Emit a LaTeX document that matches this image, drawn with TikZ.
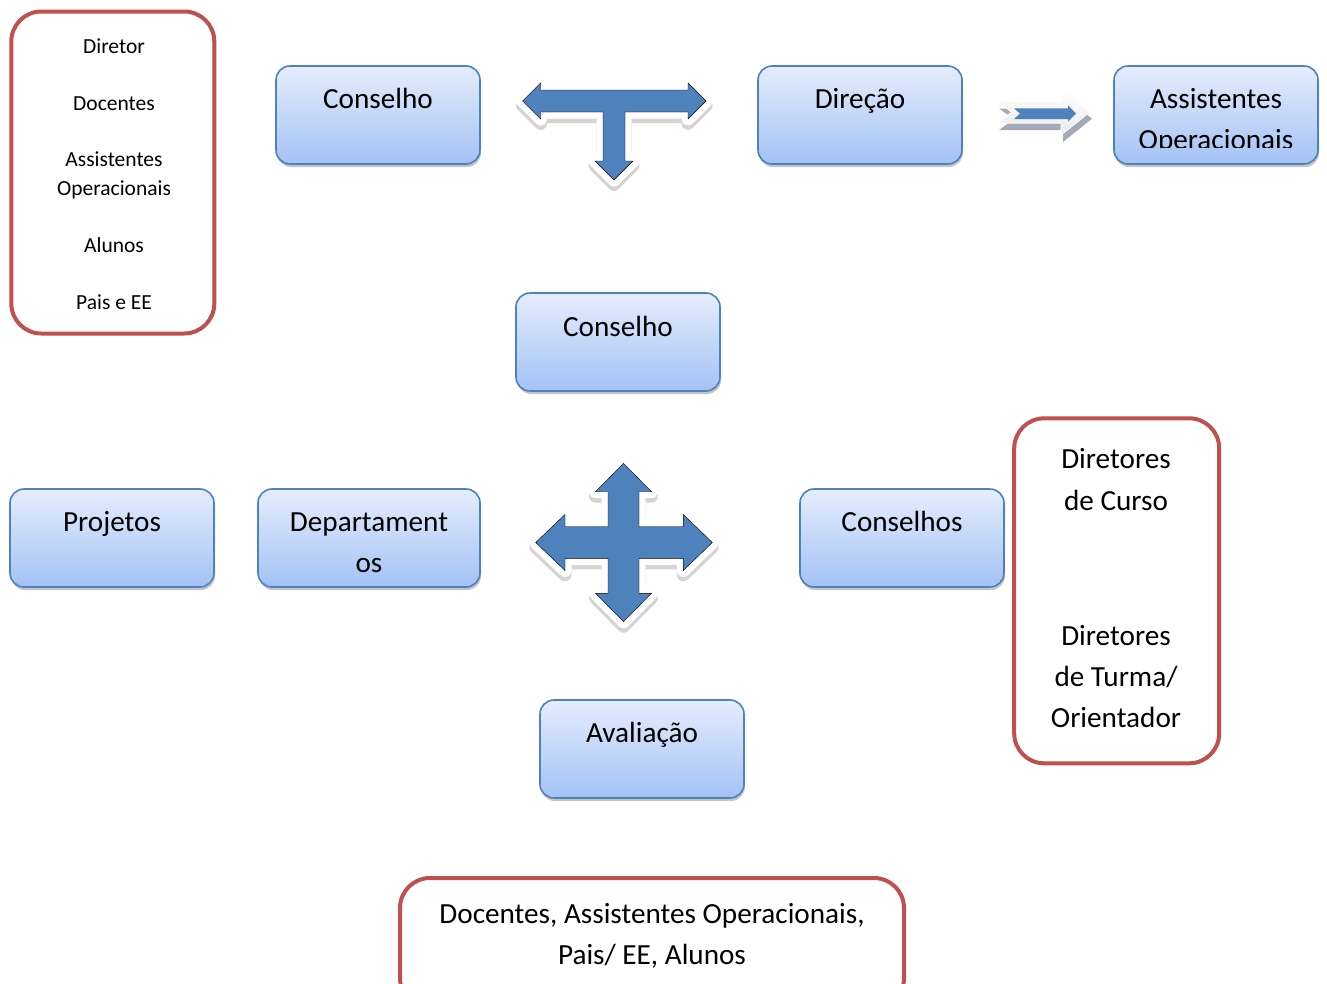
\documentclass[tikz,border=0pt]{standalone}
\usepackage{fontspec}
\setmainfont{Carlito}
\usetikzlibrary{shadows}
\definecolor{boxblue}{HTML}{4F81BD}
\definecolor{boxtop}{HTML}{E5EDFC}
\definecolor{boxbot}{HTML}{A3C2F5}
\definecolor{redline}{HTML}{C0504D}
\definecolor{arrblue}{HTML}{4F81BD}
\definecolor{arrshadow}{HTML}{D4D4D4}
\definecolor{lightarr}{HTML}{EAEAEA}
\definecolor{darkshadow}{HTML}{A3AAB8}
\newcommand\mylines[1]{\begin{tabular}[t]{@{}c@{}}#1\end{tabular}}
\tikzset{
  bluebox/.style={draw=boxblue, line width=1.6pt, rounded corners=14pt,
    top color=boxtop, bottom color=boxbot, minimum width=204pt,
    minimum height=98pt, inner sep=0pt,
    drop shadow={shadow xshift=1pt, shadow yshift=-3pt, fill=black!45, opacity=0.5}},
  redbox/.style={draw=redline, line width=4pt, rounded corners=30pt, fill=white, inner sep=0pt},
  bigtxt/.style={font=\fontsize{29.2}{41}\selectfont, inner sep=0pt, anchor=base},
  smalltxt/.style={font=\fontsize{21.5}{28.3}\selectfont, inner sep=0pt, anchor=base},
  arrowbody/.style={fill=arrblue, preaction={draw=white, line width=13pt, line join=round}},
  arrowshade/.style={fill=arrshadow, draw=arrshadow, line width=13pt, line join=round}
}
\begin{document}
\begin{tikzpicture}[x=1pt,y=-1pt]
\clip (0,0) rectangle (1327,983);
\fill[white] (0,0) rectangle (1327,983);

% ---- red boxes ----
\node[redbox, minimum width=203pt, minimum height=322pt] (redL) at (112.8,172.5) {};
\node[smalltxt] (lDir) at (114,53.3) {Diretor};
\node[smalltxt] (lDoc) at (114,110) {Docentes};
\node[smalltxt] (lAss) at (114,166.7) {\mylines{Assistentes\\Operacionais}};
\node[smalltxt] (lAlu) at (114,252.7) {Alunos};
\node[smalltxt] (lPai) at (114,309.3) {Pais e EE};

\node[redbox, minimum width=205pt, minimum height=345pt] (redR) at (1116.7,590.8) {};
\node[bigtxt, font=\fontsize{29.2}{42}\selectfont] (rCur) at (1116,468.3) {\mylines{Diretores\\de Curso}};
\node[bigtxt] (rTur) at (1116,645) {\mylines{Diretores\\de Turma/\\Orientador}};

\node[redbox, minimum width=504pt, minimum height=130pt] (redB) at (652,943) {};
\node[bigtxt] (bTxt) at (652,923) {\mylines{Docentes, Assistentes Operacionais,\\Pais/ EE, Alunos}};

% ---- blue boxes ----
\node[bluebox] (cons1) at (378,115) {};
\node[bigtxt] (cons1t) at (378,108) {Conselho};

\node[bluebox] (dir) at (860,115) {};
\node[bigtxt] (dirt) at (860,108) {Direção};

\node[bluebox] (assist) at (1216,115) {};
\begin{scope}
\clip (1114,66) rectangle (1318,147);
\node[bigtxt] (assistt) at (1216,108) {\mylines{Assistentes\\Operacionais}};
\end{scope}

\node[bluebox] (cons2) at (618,342) {};
\node[bigtxt] (cons2t) at (618,336) {Conselho};

\node[bluebox] (proj) at (112,538) {};
\node[bigtxt] (projt) at (112,531) {Projetos};

\node[bluebox, minimum width=222pt] (dept) at (369,538) {};
\node[bigtxt] (deptt) at (369,531) {\mylines{Departament\\os}};

\node[bluebox] (consS) at (902,538) {};
\node[bigtxt] (consSt) at (902,531) {Conselhos};

\node[bluebox] (aval) at (642,749) {};
\node[bigtxt] (avalt) at (642,742) {Avaliação};

% ---- T arrow (top) ----
\def\Tpath{(522.7,101) -- (540.7,83) -- (540.7,90) -- (688,90) -- (688,83) -- (706,101)
  -- (688,119) -- (688,112) -- (625,112) -- (625,161) -- (633,161) -- (614,180)
  -- (595,161) -- (603,161) -- (603,112) -- (540.7,112) -- (540.7,119) -- cycle}
\draw[arrowshade, yshift=-4.5pt] \Tpath;
\draw[arrowbody] \Tpath;

% ---- four-way arrow ----
\def\Fpath{(623.5,463.3) -- (651.5,491.7) -- (639,491.7) -- (639,526.7) -- (683.3,526.7)
  -- (683.3,514.5) -- (712.3,542.5) -- (683.3,570.5) -- (683.3,558.3) -- (639,558.3)
  -- (639,593.3) -- (651.5,593.3) -- (623.5,621.7) -- (595.5,593.3) -- (608,593.3)
  -- (608,558.3) -- (565,558.3) -- (565,570.5) -- (535.7,542.5) -- (565,514.5)
  -- (565,526.7) -- (608,526.7) -- (608,491.7) -- (595.5,491.7) -- cycle}
\draw[arrowshade, yshift=-4.5pt] \Fpath;
\draw[arrowbody] \Fpath;

% ---- right notched arrow ----
\def\Rpath{(997,101.5) -- (1061,101.5) -- (1061,88.5) -- (1090,111.7) -- (1061,135)
  -- (1061,123) -- (997,123) -- (1012,112.2) -- cycle}
\fill[darkshadow, xshift=2pt, yshift=-7pt] \Rpath;
\draw[top color=white, bottom color=lightarr, draw=white, line width=1pt, line join=round] \Rpath;
\fill[arrblue] (1014,108.3) -- (1068,108.3) -- (1068,105.5) -- (1076,113.5)
  -- (1068,121.5) -- (1068,119) -- (1014,119) -- (1020,113.6) -- cycle;
\end{tikzpicture}
\end{document}
